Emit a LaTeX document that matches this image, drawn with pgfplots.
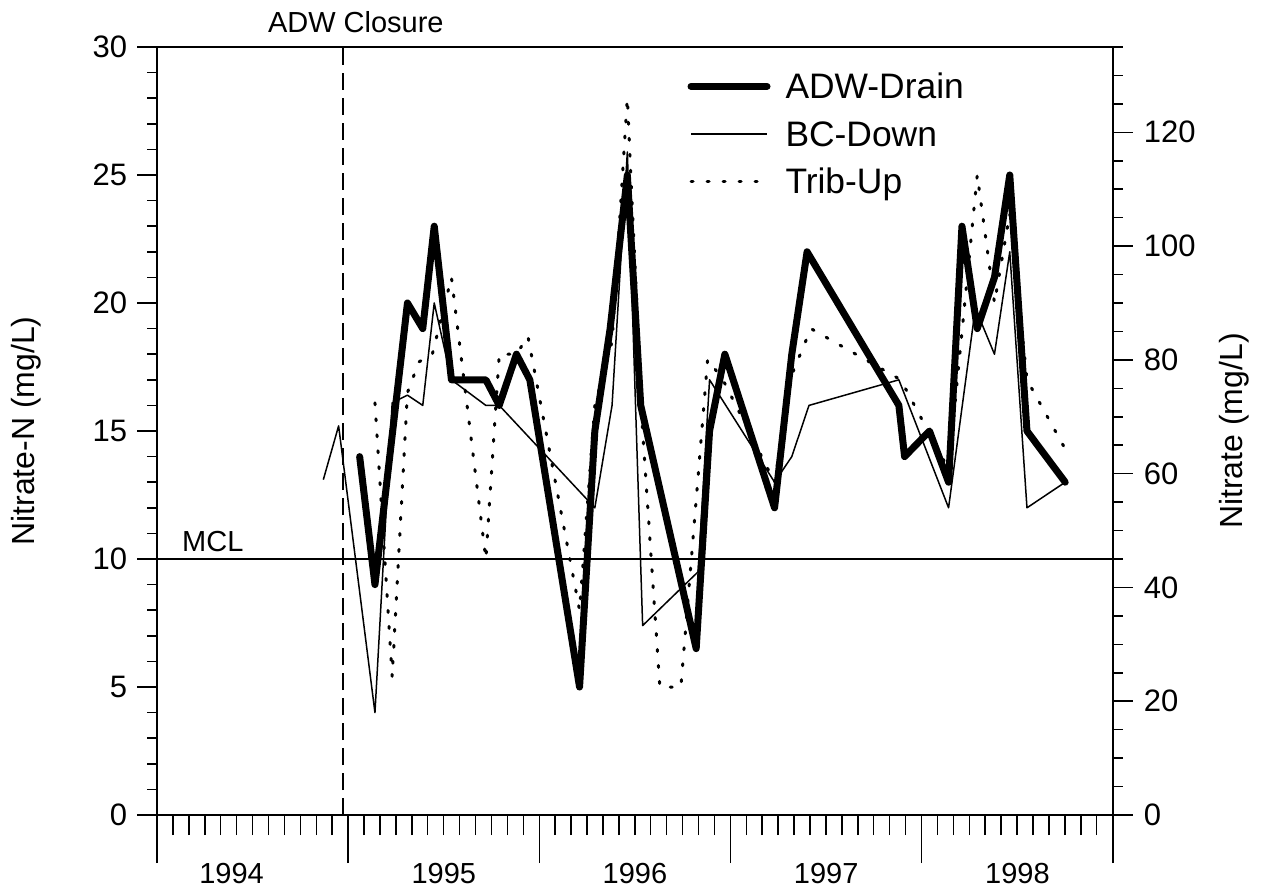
\documentclass[border=0pt]{standalone}
\usepackage{fontspec}
\setmainfont{Liberation Sans}
\usepackage{pgfplots}
\pgfplotsset{compat=1.18}

\pgfplotsset{
  frame/.style={
    scale only axis, width=478pt, height=384pt,
    xmin=1994, xmax=1999,
    axis line style={line width=0.75pt},
    every tick/.style={line width=0.75pt, black},
    /pgf/number format/assume math mode=true,
    tick label style={font=\fontsize{15.5}{18}\selectfont},
  },
}
\tikzset{lbl/.style={font=\fontsize{14.5}{17}\selectfont}}

\begin{document}
\begin{tikzpicture}
% left axis: nitrate as N
\begin{axis}[frame, ymin=0, ymax=30,
  axis x line=none, axis y line*=left,
  ytick={0,5,...,30}, minor y tick num=4,
  tick align=outside, major tick length=10pt, minor tick length=5pt,
  yticklabel style={xshift=-1.5pt},
  ylabel={Nitrate-N (mg/L)},
  every axis y label/.style={at={(rel axis cs:-0.1203,0.5)}, rotate=90,
    anchor=south, inner sep=0pt, font=\fontsize{16}{19}\selectfont}]
\end{axis}

% right axis: nitrate (factor 4.5)
\begin{axis}[frame, ymin=0, ymax=135,
  axis x line=none, axis y line*=right,
  ytick={0,20,...,120}, minor ytick={5,10,...,135},
  tick align=outside, major tick length=10pt, minor tick length=5pt,
  yticklabel style={xshift=2pt},
  ylabel={Nitrate (mg/L)},
  every axis y label/.style={at={(rel axis cs:1.1433,0.5)}, rotate=90,
    anchor=south, inner sep=0pt, font=\fontsize{16}{19}\selectfont}]
\end{axis}

% data axis with monthly ticks
\begin{axis}[frame, ymin=0, ymax=30, clip=false,
  xtick={1994,...,1999}, xticklabels={},
  minor xtick={1994.08333,1994.16667,...,1998.95},
  ytick=\empty, xtick pos=left,
  tick align=outside, major tick length=24pt, minor tick length=10pt,
  legend cell align=left,
  legend image code/.code={\draw[#1] (0pt,0pt) -- (38pt,0pt);},
  legend style={at={(rel axis cs:0.5545,0.9707)}, anchor=north west,
    draw=none, fill=none, inner sep=0pt, row sep=7.25pt, column sep=7.5pt,
    font=\fontsize{17.7}{20}\selectfont,
    nodes={inner sep=0pt, text height=14.5pt, text depth=2pt}},
]
% reference lines
\addplot[black, line width=0.75pt, forget plot] coordinates {(1994,10) (1999,10)};
\addplot[black, line width=0.75pt, dash pattern=on 8.5pt off 4pt, forget plot]
  coordinates {(1994.973,0) (1994.973,30)};

% ADW-Drain
\addplot[black, line width=3.5pt, line join=round, line cap=round] coordinates {
(1995.06,14) (1995.14,9) (1995.31,20) (1995.39,19) (1995.45,23) (1995.54,17)
(1995.72,17) (1995.79,16) (1995.88,18) (1995.95,17) (1996.21,5) (1996.29,15)
(1996.37,19) (1996.46,25) (1996.53,16) (1996.82,6.5) (1996.89,15) (1996.97,18)
(1997.23,12) (1997.32,18) (1997.40,22) (1997.88,16) (1997.91,14) (1998.04,15)
(1998.14,13) (1998.21,23) (1998.29,19) (1998.38,21) (1998.46,25) (1998.55,15)
(1998.75,13)};
\addlegendentry{ADW-Drain}

% BC-Down
\addplot[black, line width=0.75pt, line join=round] coordinates {
(1994.87,13.1) (1994.95,15.2) (1995.14,4.0) (1995.23,16.1) (1995.31,16.4)
(1995.39,16) (1995.45,20) (1995.54,17) (1995.72,16) (1995.79,16) (1996.29,12)
(1996.38,16) (1996.46,25.9) (1996.54,7.4) (1996.83,9.5) (1996.89,17)
(1997.23,13) (1997.32,14) (1997.41,16) (1997.88,17) (1998.14,12) (1998.28,19.8)
(1998.38,18) (1998.46,22) (1998.55,12) (1998.75,13)};
\addlegendentry{BC-Down}

% Trib-Up
\addplot[black, line width=1.5pt, line cap=round, line join=round,
  dash pattern=on 1pt off 7pt] coordinates {
(1995.14,16.1) (1995.23,5.4) (1995.31,16.5) (1995.37,17.7) (1995.44,18.0)
(1995.54,21) (1995.72,10) (1995.79,18) (1995.88,18) (1995.94,18.7)
(1996.21,8) (1996.29,16) (1996.38,18.5) (1996.46,28) (1996.54,15)
(1996.63,5) (1996.74,5) (1996.88,17.8) (1996.96,17) (1997.23,13)
(1997.32,17.2) (1997.42,19) (1997.89,17) (1998.14,13.5) (1998.29,25)
(1998.38,20) (1998.46,23.5) (1998.55,17) (1998.75,14.3)};
\addlegendentry{Trib-Up}

% annotations
\node[lbl, anchor=base, yshift=7pt] at (axis cs:1995.04,30) {ADW Closure};
\node[lbl, anchor=base west, inner sep=0pt, yshift=4pt] at (axis cs:1994.13,10) {MCL};
\node[lbl, anchor=base, yshift=-34pt] at (axis cs:1994.39,0) {1994};
\node[lbl, anchor=base, yshift=-34pt] at (axis cs:1995.5,0) {1995};
\node[lbl, anchor=base, yshift=-34pt] at (axis cs:1996.5,0) {1996};
\node[lbl, anchor=base, yshift=-34pt] at (axis cs:1997.5,0) {1997};
\node[lbl, anchor=base, yshift=-34pt] at (axis cs:1998.5,0) {1998};

% page extent
\path (rel axis cs:-0.1642,-0.0951) rectangle (rel axis cs:1.1590,1.0612);
\end{axis}
\end{tikzpicture}
\end{document}
